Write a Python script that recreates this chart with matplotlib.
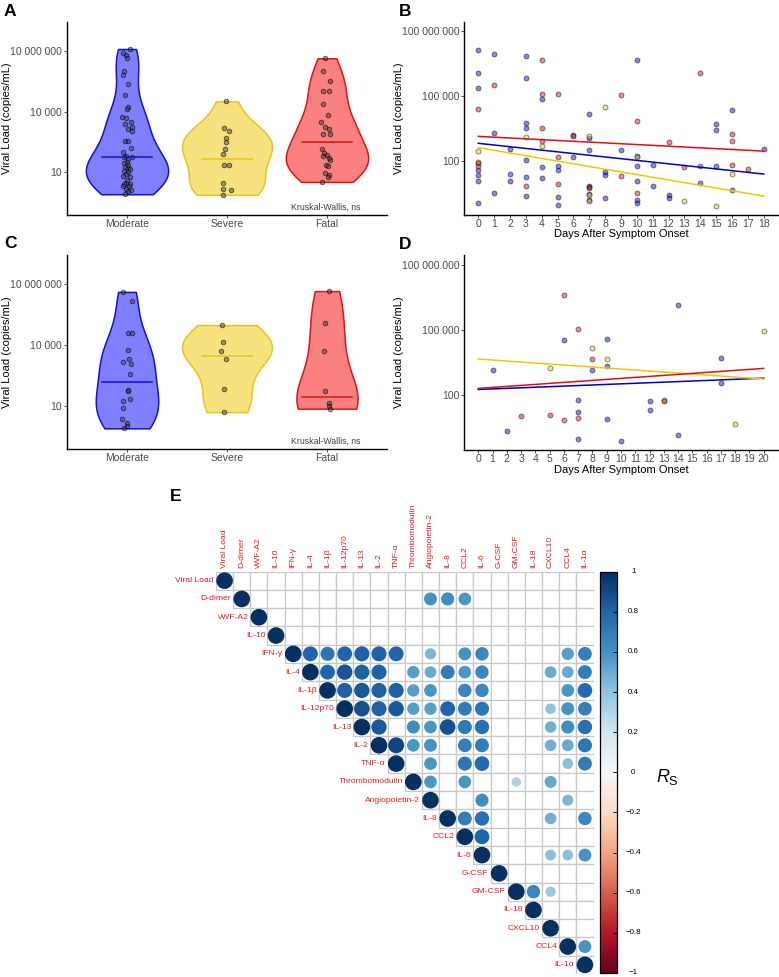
import numpy as np
import matplotlib
matplotlib.use("Agg")
import matplotlib.pyplot as plt
from matplotlib.patches import Rectangle
from matplotlib.ticker import NullLocator
from matplotlib.colors import Normalize
from matplotlib.cm import ScalarMappable

plt.rcParams['font.family'] = ['Liberation Sans', 'DejaVu Sans']
plt.rcParams['mathtext.fontset'] = 'custom'
plt.rcParams['mathtext.rm'] = 'Liberation Sans'
plt.rcParams['mathtext.it'] = 'Liberation Sans:italic'

# ---------------- DATA ----------------
groups = ["Moderate", "Severe", "Fatal"]
edge_cols = ["#1010d8", "#e8c41c", "#dc1414"]
fill_cols = ["#8080ff", "#f7e27f", "#fb8080"]
line_cols = ["#0000c0", "#f0c800", "#e01010"]

# Panel A: log10 viral load per group, jitter offsets
a_mod = [7.11, 6.92, 6.82, 6.65, 6.04, 5.83, 5.38, 4.85, 4.26, 4.15, 3.73, 3.68, 3.49, 3.41,
         3.24, 3.14, 3.03, 2.53, 2.53, 2.20, 2.00, 1.79, 1.76, 1.75, 1.68, 1.51, 1.45, 1.38,
         1.26, 1.20, 1.15, 1.06, 1.00, 0.90, 0.80, 0.77, 0.64, 0.47, 0.40, 0.43, 0.32, 0.30,
         0.19, 0.11, 0.08, -0.09]
a_mod_jit = [0.03, -0.04, -0.01, 0, -0.03, -0.04, 0.01, -0.02, 0.01, 0, -0.05, -0.01, 0.04, -0.02,
             0.05, 0.01, 0.05, -0.02, 0.01, 0.04, -0.04, -0.01, 0.05, -0.03, 0.01, 0, -0.03, 0.01,
             -0.02, 0.01, 0.03, -0.03, 0.01, -0.01, -0.04, 0.03, 0, -0.01, -0.03, 0.03, -0.04, 0.02,
             -0.01, 0.04, 0.01, -0.02]
a_sev = [4.51, 3.19, 3.03, 2.70, 2.50, 2.14, 1.92, 1.36, 1.36, 0.47, 0.18, 0.11, -0.12]
a_sev_jit = [-0.01, -0.03, 0.02, -0.01, -0.01, -0.02, -0.04, -0.03, 0.02, -0.04, -0.04, 0.04, -0.04]
a_fat = [6.65, 6.03, 5.50, 5.05, 5.05, 4.39, 3.83, 3.49, 3.24, 3.13, 2.88, 2.88, 2.17, 1.95,
         1.84, 1.80, 1.72, 1.59, 1.35, 1.30, 0.94, 0.85, 0.74, 0.52]
a_fat_jit = [-0.02, -0.04, 0.03, -0.04, 0.02, -0.04, 0.01, -0.06, -0.02, 0.02, -0.04, 0.03, -0.05,
             -0.03, 0, -0.04, 0.02, 0.03, -0.01, 0.01, -0.02, 0.02, 0.01, -0.05]
a_summary = [1.74, 1.64, 2.52]

# Panel C
c_mod = [6.63, 6.16, 4.58, 4.62, 3.75, 3.34, 3.17, 3.06, 2.60, 1.79, 1.76, 1.27, 1.35, 0.92,
         0.38, 0.18, 0.01, -0.10]
c_mod_jit = [-0.04, 0.05, 0.01, 0.05, 0.01, 0.02, -0.04, 0.04, 0.03, 0.01, 0.01, -0.04, 0.03,
             -0.04, -0.05, 0, 0, -0.03]
c_sev = [4.99, 4.18, 3.70, 3.31, 1.83, 0.70]
c_sev_jit = [-0.05, -0.04, -0.06, -0.01, -0.03, -0.03]
c_fat = [6.67, 5.09, 3.72, 1.74, 1.13, 1.00, 0.87]
c_fat_jit = [0.02, -0.02, -0.03, -0.02, 0.02, 0.02, 0.03]
c_summary = [2.19, 3.49, 1.44]

# Panel B: day after onset and log10 viral load
b_mod_day = [0]*7 + [1]*3 + [2]*3 + [3]*7 + [4]*3 + [5]*4 + [6]*2 + [7]*6 + [8]*3 + [9] + \
            [10]*6 + [11]*2 + [12]*2 + [14] + [15]*3 + [16]*2 + [18]
b_mod_log = [7.14, 6.06, 5.37, 1.60, 1.37, 1.08, 0.08,
             6.92, 3.28, 0.52,
             2.55, 1.38, 1.08,
             6.83, 5.82, 3.77, 3.52, 2.05, 1.26, 0.40,
             4.86, 1.71, 1.20,
             1.78, 1.60, 0.35, -0.03,
             3.22, 2.17,
             4.17, 3.06, 2.52, 0.85, 0.46, 0.18,
             1.51, 1.35, 0.29,
             2.51,
             6.68, 2.22, 1.75, 1.09, 0.20, 0.08,
             1.80, 0.85,
             0.43, 0.31,
             1.00,
             3.72, 3.42, 1.77,
             4.34, 0.68,
             2.58]
b_sev_day = [0, 0, 3, 4, 7, 7, 7, 8, 10, 13, 15, 16]
b_sev_log = [2.48, 1.97, 3.09, 2.68, 3.18, 0.45, 0.15, 4.51, 2.17, 0.15, -0.09, 1.38]
b_fat_day = [0, 0, 0, 1, 3, 4, 4, 4, 4, 5, 5, 5, 6, 7, 7, 9, 9, 10, 10, 12, 13, 14, 14, 16, 16, 16, 17]
b_fat_log = [4.42, 1.90, 1.78, 5.52, 0.86, 6.66, 5.08, 3.52, 2.91, 5.08, 2.20, 0.95, 3.15,
             0.78, 0.74, 5.06, 1.32, 3.86, 0.54, 2.88, 1.72, 6.06, 1.77, 3.25, 2.91, 1.83, 1.62]
b_trend_intercept = [2.82, 2.62, 3.14]
b_trend_slope = [-0.0789, -0.1244, -0.0378]

# Panel D
d_mod_day = [1, 2, 6, 7, 7, 7, 8, 9, 9, 9, 10, 12, 12, 14, 14, 17, 17]
d_mod_log = [3.15, 0.36, 4.56, 1.78, 1.25, -0.02, 3.18, 4.60, 3.33, 0.90, -0.11, 1.75, 1.32,
             6.13, 0.18, 3.71, 2.58]
d_sev_day = [5, 8, 9, 13, 18, 20]
d_sev_log = [3.28, 4.16, 3.68, 1.80, 0.70, 4.95]
d_fat_day = [3, 5, 6, 6, 7, 7, 8, 13]
d_fat_log = [1.06, 1.11, 6.62, 0.87, 5.05, 0.94, 3.68, 1.74]
d_trend_intercept = [2.27, 3.67, 2.32]
d_trend_slope = [0.026, -0.046, 0.046]

# Panel E: Spearman correlation matrix (upper triangle)
variables = ["Viral Load", "D-dimer", "vWF-A2", "IL-10", "IFN-γ", "IL-4", "IL-1β", "IL-12p70",
             "IL-13", "IL-2", "TNF-α", "Thrombomodulin", "Angiopoietin-2", "IL-8", "CCL2", "IL-6",
             "G-CSF", "GM-CSF", "IL-18", "CXCL10", "CCL4", "IL-1α"]
corr_pairs = [
    ("D-dimer", "Angiopoietin-2", 0.60), ("D-dimer", "IL-8", 0.62), ("D-dimer", "CCL2", 0.58),
    ("IFN-γ", "IL-4", 0.80), ("IFN-γ", "IL-1β", 0.72), ("IFN-γ", "IL-12p70", 0.80),
    ("IFN-γ", "IL-13", 0.82), ("IFN-γ", "IL-2", 0.82), ("IFN-γ", "TNF-α", 0.80),
    ("IFN-γ", "Angiopoietin-2", 0.45), ("IFN-γ", "CCL2", 0.60), ("IFN-γ", "IL-6", 0.65),
    ("IFN-γ", "CCL4", 0.55), ("IFN-γ", "IL-1α", 0.68),
    ("IL-4", "IL-1β", 0.80), ("IL-4", "IL-12p70", 0.86), ("IL-4", "IL-13", 0.82),
    ("IL-4", "IL-2", 0.82), ("IL-4", "Thrombomodulin", 0.55), ("IL-4", "Angiopoietin-2", 0.50),
    ("IL-4", "IL-8", 0.70), ("IL-4", "CCL2", 0.58), ("IL-4", "IL-6", 0.65),
    ("IL-4", "CXCL10", 0.50), ("IL-4", "CCL4", 0.50), ("IL-4", "IL-1α", 0.70),
    ("IL-1β", "IL-12p70", 0.82), ("IL-1β", "IL-13", 0.85), ("IL-1β", "IL-2", 0.82),
    ("IL-1β", "TNF-α", 0.82), ("IL-1β", "Thrombomodulin", 0.55), ("IL-1β", "Angiopoietin-2", 0.58),
    ("IL-1β", "CCL2", 0.65), ("IL-1β", "IL-6", 0.65), ("IL-1β", "CCL4", 0.58), ("IL-1β", "IL-1α", 0.78),
    ("IL-12p70", "IL-13", 0.88), ("IL-12p70", "IL-2", 0.82), ("IL-12p70", "TNF-α", 0.85),
    ("IL-12p70", "Thrombomodulin", 0.55), ("IL-12p70", "Angiopoietin-2", 0.55),
    ("IL-12p70", "IL-8", 0.80), ("IL-12p70", "CCL2", 0.70), ("IL-12p70", "IL-6", 0.72),
    ("IL-12p70", "CXCL10", 0.40), ("IL-12p70", "CCL4", 0.60), ("IL-12p70", "IL-1α", 0.68),
    ("IL-13", "IL-2", 0.85), ("IL-13", "Thrombomodulin", 0.62), ("IL-13", "Angiopoietin-2", 0.58),
    ("IL-13", "IL-8", 0.88), ("IL-13", "CCL2", 0.72), ("IL-13", "IL-6", 0.75),
    ("IL-13", "CXCL10", 0.48), ("IL-13", "CCL4", 0.62), ("IL-13", "IL-1α", 0.75),
    ("IL-2", "TNF-α", 0.92), ("IL-2", "Thrombomodulin", 0.58), ("IL-2", "Angiopoietin-2", 0.60),
    ("IL-2", "CCL2", 0.68), ("IL-2", "IL-6", 0.70), ("IL-2", "CXCL10", 0.48),
    ("IL-2", "CCL4", 0.50), ("IL-2", "IL-1α", 0.72),
    ("TNF-α", "Angiopoietin-2", 0.58), ("TNF-α", "CCL2", 0.72), ("TNF-α", "IL-6", 0.78),
    ("TNF-α", "CCL4", 0.42), ("TNF-α", "IL-1α", 0.70),
    ("Thrombomodulin", "Angiopoietin-2", 0.58), ("Thrombomodulin", "CCL2", 0.58),
    ("Thrombomodulin", "GM-CSF", 0.32), ("Thrombomodulin", "CXCL10", 0.52),
    ("Angiopoietin-2", "IL-6", 0.62), ("Angiopoietin-2", "CCL4", 0.45),
    ("IL-8", "CCL2", 0.70), ("IL-8", "IL-6", 0.75), ("IL-8", "CXCL10", 0.48), ("IL-8", "IL-1α", 0.65),
    ("CCL2", "IL-6", 0.80),
    ("IL-6", "CXCL10", 0.42), ("IL-6", "CCL4", 0.42), ("IL-6", "IL-1α", 0.60),
    ("GM-CSF", "IL-18", 0.65), ("GM-CSF", "CXCL10", 0.38),
    ("CCL4", "IL-1α", 0.60),
]
cbar_ticks = [1, 0.8, 0.6, 0.4, 0.2, 0, -0.2, -0.4, -0.6, -0.8, -1]

# ---------------- FIGURE ----------------
W, H = 779, 977
fig = plt.figure(figsize=(W / 100, H / 100), dpi=100)


def px_axes(l, t, r, b):
    return fig.add_axes([l / W, 1 - b / H, (r - l) / W, (b - t) / H])


TICK_COL = "#4d4d4d"


def style_axes(ax):
    for s in ["top", "right"]:
        ax.spines[s].set_visible(False)
    for s in ["left", "bottom"]:
        ax.spines[s].set_linewidth(1.0)
        ax.spines[s].set_color("black")
    ax.tick_params(axis="both", labelsize=7.5, labelcolor=TICK_COL, length=2.5, width=0.6,
                   color="#333333", pad=1.0)
    ax.tick_params(axis="x", pad=0.5)
    ax.yaxis.set_minor_locator(NullLocator())


def kde_nrd0(x, grid):
    x = np.asarray(x, float)
    n = len(x)
    sd = np.std(x, ddof=1)
    q75, q25 = np.percentile(x, [75, 25])
    lo = min(sd, (q75 - q25) / 1.34)
    bw = 0.9 * lo * n ** (-0.2)
    z = (grid[:, None] - x[None, :]) / bw
    return np.exp(-0.5 * z ** 2).sum(axis=1) / (n * bw * np.sqrt(2 * np.pi))


def violin_panel(ax, data, jits, summary):
    grids, dens = [], []
    for vals in data:
        g = np.linspace(min(vals), max(vals), 512)
        grids.append(g)
        dens.append(kde_nrd0(vals, g))
    dmax = max(d.max() for d in dens)
    for k, (vals, jit) in enumerate(zip(data, jits)):
        pos = k + 1
        w = dens[k] / dmax * 0.45
        ax.fill_betweenx(10 ** grids[k], pos - w, pos + w, facecolor=fill_cols[k],
                         edgecolor=edge_cols[k], linewidth=1.1, zorder=1)
        ax.scatter(pos + np.asarray(jit), 10 ** np.asarray(vals), s=11,
                   facecolor=(0.2, 0.2, 0.2, 0.45), edgecolor=(0, 0, 0, 0.6),
                   linewidth=0.6, zorder=3)
        ax.plot([pos - 0.25, pos + 0.25], [10 ** summary[k]] * 2, color=edge_cols[k],
                lw=1.1, zorder=4)
    ax.set_yscale("log")
    ax.set_ylim(10 ** -1.12, 10 ** 8.45)
    ax.set_xlim(0.4, 3.6)
    ax.set_xticks([1, 2, 3])
    ax.set_xticklabels(groups)
    ax.set_yticks([10, 1e4, 1e7])
    ax.set_yticklabels(["10", "10 000", "10 000 000"])
    style_axes(ax)
    ax.set_ylabel("Viral Load (copies/mL)", fontsize=8)
    ax.yaxis.set_label_coords(-0.172, 0.5)
    ax.text(2.99, 0.04, "Kruskal-Wallis, ns", transform=ax.get_xaxis_transform(),
            ha="center", va="center", fontsize=6.3, color="#404040")


def scatter_panel(ax, days, logs, intercepts, slopes, maxday, ylim):
    for k in range(3):
        ax.scatter(days[k], 10 ** np.asarray(logs[k]), s=13, facecolor=edge_cols[k],
                   edgecolor="black", alpha=0.5, linewidth=0.6, zorder=3)
    for k in [0, 1, 2]:
        xx = np.array([0, maxday])
        ax.plot(xx, 10 ** (intercepts[k] + slopes[k] * xx), color=line_cols[k], lw=1.1, zorder=4)
    ax.set_yscale("log")
    ax.set_ylim(10 ** ylim[0], 10 ** ylim[1])
    ax.set_xlim(-0.05 * maxday, maxday * 1.05)
    ax.set_xticks(range(0, maxday + 1))
    ax.set_yticks([100, 1e5, 1e8])
    ax.set_yticklabels(["100", "100 000", "100 000 000"])
    style_axes(ax)
    ax.set_ylabel("Viral Load (copies/mL)", fontsize=8)
    ax.yaxis.set_label_coords(-0.19, 0.5)
    ax.set_xlabel("Days After Symptom Onset", fontsize=8, labelpad=0)
    ax.xaxis.set_label_coords(0.5, -0.075)


axA = px_axes(67, 22, 387, 215)
violin_panel(axA, [a_mod, a_sev, a_fat], [a_mod_jit, a_sev_jit, a_fat_jit], a_summary)
axC = px_axes(67, 255, 387, 449)
violin_panel(axC, [c_mod, c_sev, c_fat], [c_mod_jit, c_sev_jit, c_fat_jit], c_summary)

axB = px_axes(464, 22, 778, 215)
scatter_panel(axB, [b_mod_day, b_sev_day, b_fat_day], [b_mod_log, b_sev_log, b_fat_log],
              b_trend_intercept, b_trend_slope, 18, (-0.49, 8.42))
axD = px_axes(464, 255, 778, 450)
scatter_panel(axD, [d_mod_day, d_sev_day, d_fat_day], [d_mod_log, d_sev_log, d_fat_log],
              d_trend_intercept, d_trend_slope, 20, (-0.51, 8.45))

# Panel labels
for lab, x, y in [("A", 4, 11), ("B", 399, 11), ("C", 4, 244), ("D", 399, 245), ("E", 170, 497)]:
    fig.text(x / W, 1 - y / H, lab, fontsize=12.5, fontweight="bold", ha="left", va="center")

# ---------------- Panel E ----------------
axE = px_axes(216, 571.5, 593.5, 974)
n = len(variables)
axE.set_xlim(-0.5, n - 0.5)
axE.set_ylim(n - 0.5, -0.5)
axE.axis("off")
cmap = plt.get_cmap("RdBu")
norm = Normalize(-1, 1)
for i in range(n):
    for j in range(i, n):
        axE.add_patch(Rectangle((j - 0.5, i - 0.5), 1, 1, facecolor="white",
                                edgecolor="#c8c8c8", linewidth=0.9, zorder=1))

cell_pt = (593.5 - 216) / n * 0.72
rows, cols, vals = [], [], []
for i in range(n):
    rows.append(i); cols.append(i); vals.append(1.0)
idx = {v: k for k, v in enumerate(variables)}
for a, b, r in corr_pairs:
    rows.append(idx[a]); cols.append(idx[b]); vals.append(r)
vals = np.array(vals)
axE.scatter(cols, rows, s=(0.97 * cell_pt) ** 2 * np.abs(vals), c=cmap(norm(vals)),
            edgecolor="none", zorder=3)

for i, v in enumerate(variables):
    axE.text(i - 0.62, i, v, ha="right", va="center", fontsize=6.1, color="#e8161e")
    axE.text(i, -0.68, v, ha="center", va="bottom", rotation=90, fontsize=6.1, color="#e8161e")

cax = px_axes(600, 571.7, 617, 973)
cb = fig.colorbar(ScalarMappable(norm=norm, cmap=cmap), cax=cax, orientation="vertical")
cb.outline.set_linewidth(0.9)
cb.set_ticks(cbar_ticks)
cb.set_ticklabels([])
cax.tick_params(axis="y", direction="in", length=3, width=0.7, color="black", right=True)
for t in cbar_ticks:
    lab = ("%g" % t).replace("-", "\u2212")
    cax.text(1.95, t, lab, transform=cax.get_yaxis_transform(), ha="center", va="center",
             fontsize=5.7, color="black")
fig.text(667 / W, 1 - 777 / H, r"$\mathit{R}_{\mathrm{S}}$", fontsize=13, ha="center", va="center")

fig.savefig("out.png", dpi=100)
